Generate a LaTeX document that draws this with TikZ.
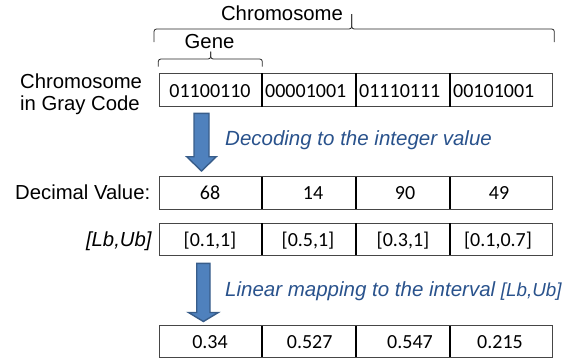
\documentclass[tikz,border=0pt]{standalone}
\usepackage{fontspec}
\setmainfont{Liberation Sans}
\newfontfamily\calibrifont{Carlito}
\definecolor{notecol}{RGB}{41,82,140}
\definecolor{arrowfill}{RGB}{79,129,189}
\definecolor{arrowedge}{RGB}{56,93,138}
\definecolor{framegray}{RGB}{70,70,70}
\begin{document}
\begin{tikzpicture}[x=1pt,y=-1pt,
  lbl/.style={inner sep=0pt, font=\fontsize{20.3}{24}\selectfont},
  ilbl/.style={inner sep=0pt, font=\itshape\fontsize{20.3}{24}\selectfont},
  num/.style={inner sep=0pt, font=\calibrifont\fontsize{20}{24}\selectfont},
  note/.style={inner sep=0pt, text=notecol, font=\itshape\fontsize{20.5}{24}\selectfont},
  cell/.style={draw=none, inner sep=0pt},
  frame/.style={draw=framegray, line width=0.9pt},
  divider/.style={draw=black, line width=1.9pt},
  brace/.style={draw=black!85, line width=0.8pt, rounded corners=2.5pt},
  blockarrow/.style={fill=arrowfill, draw=arrowedge, line width=1.4pt, line join=miter}
]
\useasboundingbox (0,0) rectangle (582,360);

% table rows: cells, outer frame and column dividers
\foreach \r/\yc/\h in {1/90/33, 2/192.85/32.3, 3/239.15/31.7, 4/341.5/31}{
  \foreach \c/\xc/\w in {1/210.6/102.2, 2/308.85/94.3, 3/403/94, 4/501.25/102.5}{
    \node[cell, minimum width=\w pt, minimum height=\h pt] (r\r-\c) at (\xc,\yc) {};
  }
  \draw[frame] (r\r-1.north west) rectangle (r\r-4.south east);
  \foreach \c in {1,2,3}{
    \draw[divider] (r\r-\c.north east) -- (r\r-\c.south east);
  }
}

% braces over the chromosome and the first gene
\draw[brace] (154,42) -- (154,29) -- (351.7,29) -- (351.7,14);
\draw[brace] (351.7,14) -- (351.7,29) -- (554.3,29) -- (554.3,42);
\draw[brace] (158.3,66.7) -- (158.3,59) -- (210.7,59) -- (210.7,51.7);
\draw[brace] (210.7,51.7) -- (210.7,59) -- (262.3,59) -- (262.3,66.7);
\node[lbl, anchor=base] (chromlbl) at (282,20.7) {Chromosome};
\node[lbl, anchor=base] (genelbl) at (209.5,48) {Gene};

% row labels
\node[lbl, anchor=base west] (gray1) at (20,88) {Chromosome};
\node[lbl, anchor=base west] (gray2) at (20,110.8) {in Gray Code};
\node[lbl, anchor=base west] (declbl) at (15,199) {Decimal Value:};
\node[ilbl, anchor=base east] (bndlbl) at (151.7,246.5) {[Lb,Ub]};

% row 1: genes in Gray code
\node[num, anchor=base] (g1) at (210,97.7) {01100110};
\node[num, anchor=base west] (g2) at (265,97.7) {00001001};
\node[num, anchor=base west] (g3) at (359,97.7) {01110111};
\node[num, anchor=base west] (g4) at (453,97.7) {00101001};

% row 2: decimal values
\node[num, anchor=base] (d1) at (210,199) {68};
\node[num, anchor=base] (d2) at (313,199) {14};
\node[num, anchor=base] (d3) at (405,199) {90};
\node[num, anchor=base] (d4) at (499,199) {49};

% row 3: bounds
\node[num, anchor=base] (b1) at (210,246.7) {[0.1,1]};
\node[num, anchor=base] (b2) at (308,246.7) {[0.5,1]};
\node[num, anchor=base] (b3) at (403,246.7) {[0.3,1]};
\node[num, anchor=base] (b4) at (498,246.7) {[0.1,0.7]};

% row 4: mapped values
\node[num, anchor=base] (m1) at (210,348) {0.34};
\node[num, anchor=base] (m2) at (309.7,348) {0.527};
\node[num, anchor=base] (m3) at (410,348) {0.547};
\node[num, anchor=base] (m4) at (500,348) {0.215};

% block arrows with their captions
\draw[blockarrow] (194,113.3) -- (209,113.3) -- (209,156.7) -- (216.3,156.7)
  -- (201.5,171) -- (186.7,156.7) -- (194,156.7) -- cycle;
\node[note, anchor=base west] (decode) at (225,145) {Decoding to the integer value};

\draw[blockarrow] (196.7,263.3) -- (210,263.3) -- (210,312.5) -- (218.3,312.5)
  -- (203.4,321.5) -- (188.5,312.5) -- (196.7,312.5) -- cycle;
\node[note, anchor=base west] (mapping) at (225,296.7)
  {Linear mapping to the interval {\fontsize{18.8}{22}\selectfont[Lb,Ub]}};
\end{tikzpicture}
\end{document}
